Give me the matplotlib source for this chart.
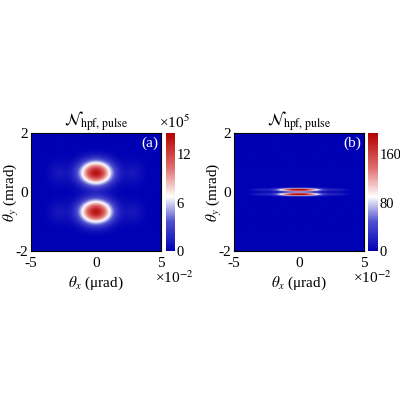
import numpy as np
import matplotlib
matplotlib.use("Agg")
import matplotlib.pyplot as plt
from matplotlib.colors import LinearSegmentedColormap

plt.rcParams['font.family'] = ['Liberation Serif', 'DejaVu Serif']
plt.rcParams['mathtext.fontset'] = 'stix'
plt.rcParams['font.size'] = 11
plt.rcParams['axes.unicode_minus'] = False

# axis extents (theta_x in 1e-2 urad, theta_y in mrad)
x_lim = [-5, 5]
y_lim = [-2, 2]
x_ticks = [-5, 0, 5]
y_ticks = [-2, 0, 2]

# panel (a): two lobes along theta_y, faint side lobes along theta_x
a_lobe_y = [-0.67, 0.65]
a_sigma_y = 0.28
a_main_sigma_x = 0.87
a_side_x = [-2.9, 2.9]
a_side_amp = 0.07
a_side_sigma_x = 0.55
a_peak = 14.0          # x1e5
a_vmax = 14.6
a_cticks = [0, 6, 12]

# panel (b): two thin stripes near theta_y = 0
b_lobe_y = [-0.075, 0.075]
b_sigma_y = 0.035
b_main_sigma_x = 1.05
b_side_x = [-3.0, 3.0]
b_side_amp = 0.08
b_side_sigma_x = 0.5
b_peak = 230.0
b_vmax = 195
b_cticks = [0, 80, 160]

cmap = LinearSegmentedColormap.from_list(
    "bwr2", [(0, "#0000b4"), (0.25, "#5050d0"), (0.46, "#ffffff"),
             (0.7, "#e07070"), (1, "#b40000")])

xx = np.linspace(-5, 5, 400)
yy = np.linspace(-2, 2, 400)
X, Y = np.meshgrid(xx, yy)


def field(lobe_y, sy, sx, side_x, side_amp, side_sx, peak):
    fx = np.exp(-X**2 / (2 * sx**2))
    for s in side_x:
        fx = fx + side_amp * np.exp(-(X - s)**2 / (2 * side_sx**2))
    fy = 0 * Y
    for c in lobe_y:
        fy = fy + np.exp(-(Y - c)**2 / (2 * sy**2))
    return peak * fx * fy


Za = field(a_lobe_y, a_sigma_y, a_main_sigma_x, a_side_x, a_side_amp, a_side_sigma_x, a_peak)
Zb = field(b_lobe_y, b_sigma_y, b_main_sigma_x, b_side_x, b_side_amp, b_side_sigma_x, b_peak)

fig = plt.figure(figsize=(4, 4), dpi=100)

panels = [
    (Za, a_vmax, a_cticks, "(a)", [31, 251, 130, 118], [166, 251, 9, 118], True, 1.10),
    (Zb, b_vmax, b_cticks, "(b)", [234, 251, 130, 118], [368, 251, 10, 118], False, 1.06),
]

for Z, vmax, cticks, lab, apos, cpos, mult, mx in panels:
    ax = fig.add_axes([apos[0] / 400, 1 - apos[1] / 400, apos[2] / 400, apos[3] / 400])
    im = ax.imshow(Z, extent=x_lim + y_lim, origin="lower", aspect="auto",
                   cmap=cmap, vmin=0, vmax=vmax, interpolation="bilinear")
    ax.set_xticks(x_ticks)
    ax.set_yticks(y_ticks)
    ax.tick_params(direction="in", length=0, labelsize=11)
    ax.tick_params(axis="x", pad=4)
    ax.tick_params(axis="y", pad=2)
    ax.set_xlabel(r"$\theta_x$ (μrad)", fontsize=11, labelpad=4)
    ax.set_ylabel(r"$\theta_y$ (mrad)", fontsize=11, labelpad=-4)
    ax.set_title(r"$\mathcal{N}_{\rm hpf,\,pulse}$", fontsize=12, pad=4)
    ax.text(0.98, 0.97, lab, color="white", fontsize=11, ha="right", va="top",
            transform=ax.transAxes)
    ax.text(mx, -0.23, r"×10$^{-2}$", fontsize=11, ha="center", va="center",
            transform=ax.transAxes)

    cax = fig.add_axes([cpos[0] / 400, 1 - cpos[1] / 400, cpos[2] / 400, cpos[3] / 400])
    cb = fig.colorbar(im, cax=cax, ticks=cticks)
    cb.outline.set_visible(False)
    cb.ax.tick_params(length=0, labelsize=10.5, pad=1)
    if mult:
        fig.text(174 / 400, 1 - 122 / 400, r"×10$^{5}$", fontsize=11,
                 ha="center", va="center")

fig.savefig("out.png", dpi=100)
